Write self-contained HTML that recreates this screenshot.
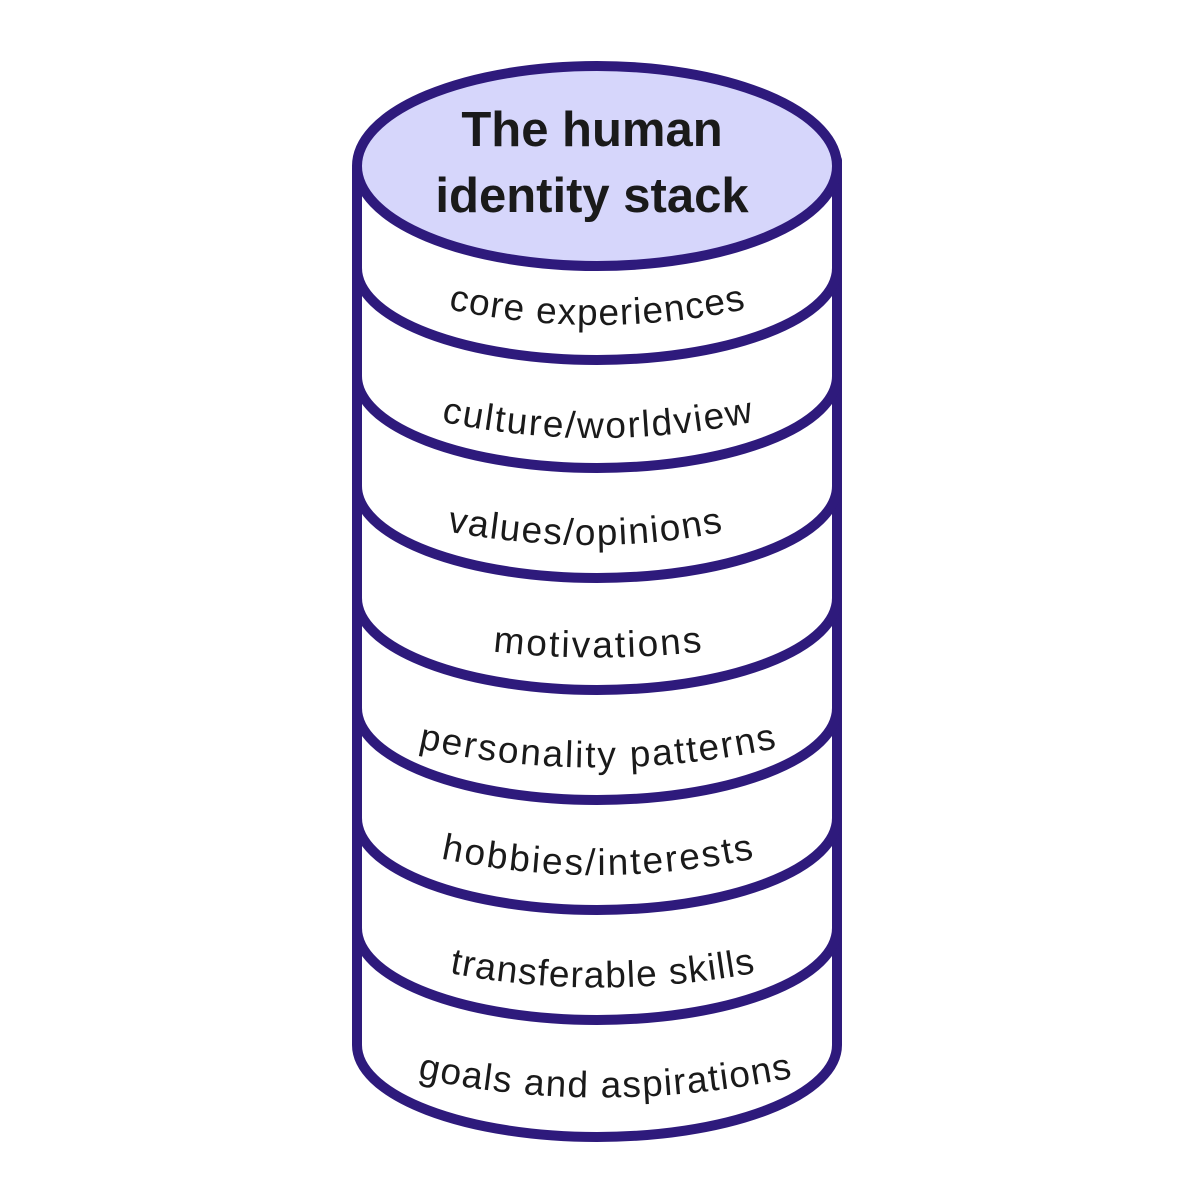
<!DOCTYPE html>
<html><head><meta charset="utf-8"><style>html,body{margin:0;padding:0;background:#fff}svg{display:block}</style></head>
<body>
<svg width="1200" height="1200" viewBox="0 0 1200 1200" xmlns="http://www.w3.org/2000/svg">
<defs>
<path id="p1" d="M430,305 Q597,345 764,305"/>
<path id="p2" d="M425,418 Q597,458 770,418"/>
<path id="p3" d="M430,528 Q597,562 740,528"/>
<path id="p4" d="M480,650 Q597,665 715,650"/>
<path id="p5" d="M405,745 Q597,790 790,745"/>
<path id="p6" d="M425,855 Q597,895 770,855"/>
<path id="p7" d="M435,970 Q597,1005 770,970"/>
<path id="p8" d="M405,1075 Q597,1120 805,1075"/>
</defs>
<g fill="none" stroke="#2e1a7c" stroke-width="10" stroke-linecap="round">
<path d="M357,168 L357,1045 A240,92 0 0 0 837,1045 L837,160" fill="#fff"/>
<path d="M357,268 A240,92 0 0 0 837,268"/>
<path d="M357,376 A240,92 0 0 0 837,376"/>
<path d="M357,486 A240,92 0 0 0 837,486"/>
<path d="M357,598 A240,92 0 0 0 837,598"/>
<path d="M357,708 A240,92 0 0 0 837,708"/>
<path d="M357,818 A240,92 0 0 0 837,818"/>
<path d="M357,928 A240,92 0 0 0 837,928"/>
<ellipse cx="597" cy="166" rx="240" ry="100" fill="#d6d6fb"/>
</g>
<g font-family="Liberation Sans, sans-serif" fill="#1a1a1a">
<text x="592" y="146" font-size="49" font-weight="bold" text-anchor="middle">The human</text>
<text x="592" y="212" font-size="49" font-weight="bold" text-anchor="middle">identity stack</text>
<g font-size="37" text-anchor="middle">
<text><textPath href="#p1" startOffset="50%" textLength="300">core experiences</textPath></text>
<text><textPath href="#p2" startOffset="50%" textLength="315">culture/worldview</textPath></text>
<text><textPath href="#p3" startOffset="50%" textLength="278">values/opinions</textPath></text>
<text><textPath href="#p4" startOffset="50%" textLength="210">motivations</textPath></text>
<text><textPath href="#p5" startOffset="50%" textLength="362">personality patterns</textPath></text>
<text><textPath href="#p6" startOffset="50%" textLength="316">hobbies/interests</textPath></text>
<text><textPath href="#p7" startOffset="50%" textLength="308">transferable skills</textPath></text>
<text><textPath href="#p8" startOffset="50%" textLength="378">goals and aspirations</textPath></text>
</g>
</g>
</svg>
</body></html>
